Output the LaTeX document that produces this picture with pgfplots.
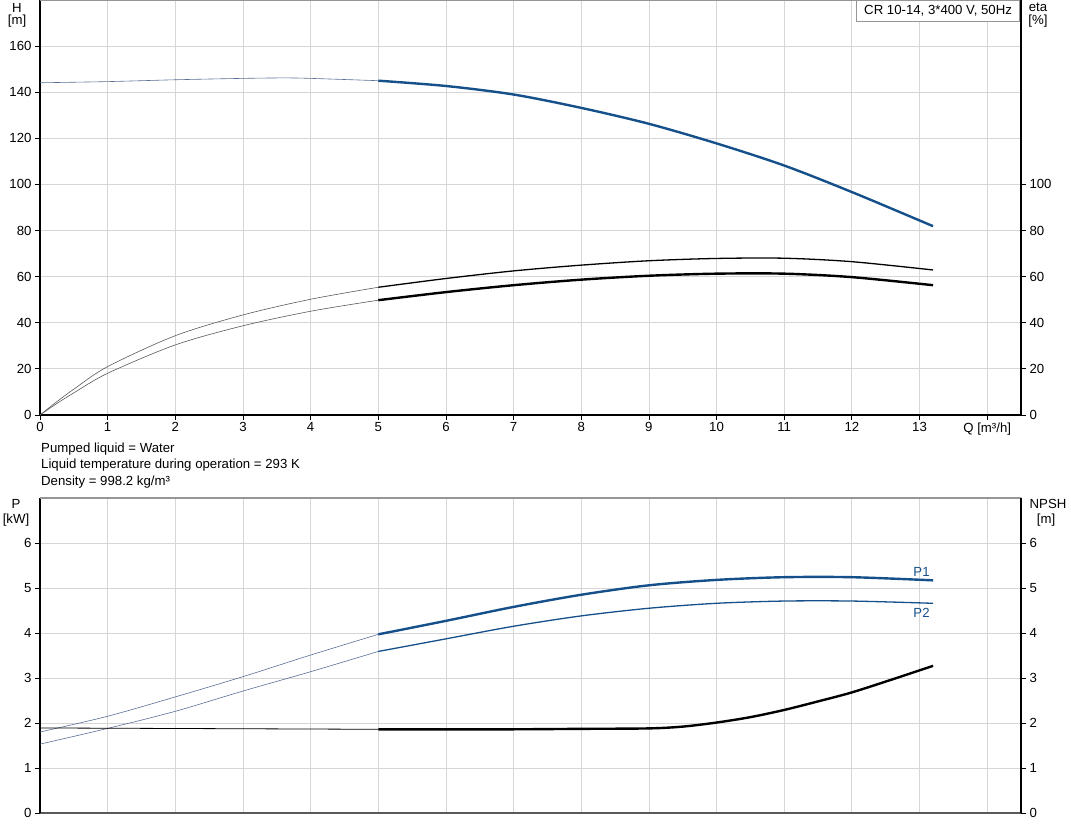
\documentclass[border=0pt]{standalone}
\usepackage{fontspec}
\setmainfont{Liberation Sans}
\usepackage{pgfplots}
\pgfplotsset{compat=1.18}
\definecolor{curveblue}{RGB}{22,80,138}
\definecolor{thinblue}{RGB}{90,110,150}
\definecolor{gridgray}{RGB}{214,214,214}
\definecolor{bordergray}{RGB}{150,150,150}
\newcommand{\chartfont}{\fontsize{13.2}{15}\selectfont}

\pgfplotsset{
  pumpaxis/.style={
    scale only axis, width=981pt, anchor=south west,
    xmin=0, xmax=14.5,
    xtick={0,1,2,3,4,5,6,7,8,9,10,11,12,13,14},
    tick align=outside, major tick length=5pt,
    tick style={black, line width=0.8pt},
    axis line style={-, black, line width=1.3pt},
    ticklabel style={font=\chartfont},
    /pgf/number format/assume math mode=true,
    clip=false,
  },
}

\begin{document}
\begin{tikzpicture}
\useasboundingbox (0pt,0pt) rectangle (1071pt,833pt);

% ---------------- TOP: H and eta ----------------
\begin{axis}[pumpaxis,
  at={(40pt,418pt)}, height=415pt,
  ymin=0, ymax=180,
  ytick={0,20,40,60,80,100,120,140,160},
  grid=major, major grid style={gridgray, line width=0.8pt},
  axis x line*=bottom, axis y line*=left,
  xticklabels={0,1,2,3,4,5,6,7,8,9,10,11,12,13,{Q [m³/h]}},
  xticklabel style={yshift=1pt},
]
\draw[bordergray, line width=1.2pt] (rel axis cs:0,1) -- (rel axis cs:1,1);
% H thin
\addplot[thinblue, line width=0.6pt, smooth] coordinates {
 (0,144.1) (1,144.6) (2,145.4) (3,146.0) (3.6,146.2) (4,146.0) (5,145.0)};
% H thick
\addplot[curveblue, line width=2.4pt, smooth] coordinates {
 (5,145.0) (6,142.7) (7,139.0) (8,133.2) (9,126.3) (10,117.8) (11,108.2) (12,96.7) (13.2,81.9)};
% eta upper thin
\addplot[gray!70!black, line width=0.6pt, smooth] coordinates {
 (0,0) (0.25,5.8) (0.5,11.2) (1,21.0) (2,34.4) (3,43.4) (4,50.2) (5,55.4)};
% eta upper thick
\addplot[black, line width=1.3pt, smooth] coordinates {
 (5,55.4) (6,59.2) (7,62.5) (8,65.0) (9,66.9) (10,67.9) (11,68.0) (12,66.5) (13.2,62.9)};
% eta lower thin
\addplot[gray!70!black, line width=0.6pt, smooth] coordinates {
 (0,0) (0.25,5.0) (0.5,9.6) (1,18.1) (2,30.4) (3,38.7) (4,45.0) (5,49.8)};
% eta lower thick
\addplot[black, line width=2.4pt, smooth] coordinates {
 (5,49.8) (6,53.3) (7,56.3) (8,58.7) (9,60.4) (10,61.3) (11,61.3) (12,59.8) (13.2,56.3)};
\end{axis}
\begin{axis}[pumpaxis,
  at={(40pt,418pt)}, height=415pt,
  ymin=0, ymax=180,
  ytick={0,20,40,60,80,100},
  axis x line=none, axis y line*=right,
]
\end{axis}

% ---------------- BOTTOM: P and NPSH ----------------
\begin{axis}[pumpaxis,
  at={(40pt,20pt)}, height=315pt,
  ymin=0, ymax=7,
  ytick={0,1,2,3,4,5,6},
  grid=major, major grid style={gridgray, line width=0.8pt},
  axis x line*=bottom, axis y line*=left,
  xticklabels={},
  xtick style={draw=none},
  x axis line style={bordergray!60!black},
]
\draw[bordergray, line width=1.2pt] (rel axis cs:0,1) -- (rel axis cs:1,1);
% P1 thin
\addplot[thinblue, line width=0.6pt, smooth] coordinates {
 (0,1.80) (1,2.15) (2,2.58) (3,3.03) (4,3.51) (5,3.97)};
% P1 thick
\addplot[curveblue, line width=2.4pt, smooth] coordinates {
 (5,3.97) (6,4.27) (7,4.58) (8,4.85) (9,5.06) (10,5.18) (11,5.24) (12,5.24) (13.2,5.17)};
% P2 thin
\addplot[thinblue, line width=0.6pt, smooth] coordinates {
 (0,1.53) (1,1.88) (2,2.26) (3,2.71) (4,3.14) (5,3.59)};
% P2 thick
\addplot[curveblue, line width=1.3pt, smooth] coordinates {
 (5,3.59) (6,3.87) (7,4.15) (8,4.38) (9,4.55) (10,4.66) (11,4.71) (12,4.71) (13.2,4.66)};
% NPSH thin
\addplot[black, line width=0.8pt] coordinates {(0,1.89) (5,1.86)};
% NPSH thick
\addplot[black, line width=2.4pt, smooth] coordinates {
 (5,1.86) (6,1.86) (7,1.86) (8,1.87) (9,1.88) (9.5,1.92) (10,2.01) (10.5,2.13) (11,2.29) (11.5,2.48) (12,2.68) (12.6,2.97) (13.2,3.27)};
\node[curveblue, font=\chartfont] at (axis cs:13.03,5.36) {P1};
\node[curveblue, font=\chartfont] at (axis cs:13.03,4.45) {P2};
\end{axis}
\begin{axis}[pumpaxis,
  at={(40pt,20pt)}, height=315pt,
  ymin=0, ymax=7,
  ytick={0,1,2,3,4,5,6},
  axis x line=none, axis y line*=right,
]
\end{axis}

% ---------------- labels ----------------
\begin{scope}[every node/.style={font=\chartfont, inner sep=0pt}]
\node at (17pt,825pt) {H};
\node at (17pt,812pt) {[m]};
\node at (1038pt,826pt) {eta};
\node at (1038pt,812pt) {[\%]};
\node at (16pt,329pt) {P};
\node at (16pt,313pt) {[kW]};
\node at (1048pt,329pt) {NPSH};
\node at (1046pt,313pt) {[m]};
\node[anchor=west] at (41pt,384pt) {Pumped liquid = Water};
\node[anchor=west] at (41pt,368pt) {Liquid temperature during operation = 293 K};
\node[anchor=west] at (41pt,351pt) {Density = 998.2 kg/m³};
\end{scope}
\node[draw=bordergray, fill=white, line width=0.8pt, anchor=north east,
  minimum width=163pt, minimum height=21pt, inner sep=0pt,
  font=\chartfont] at (1020pt,833pt) {CR 10-14, 3*400 V, 50Hz};
\end{tikzpicture}
\end{document}
